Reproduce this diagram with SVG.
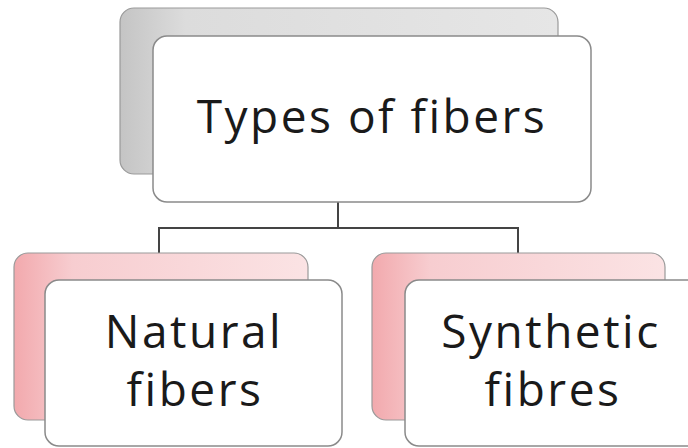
<svg xmlns="http://www.w3.org/2000/svg" width="688" height="448" viewBox="0 0 688 448">
<defs>
<linearGradient id="gGray" x1="0" y1="0" x2="1" y2="0">
<stop offset="0" stop-color="#c4c4c4"/>
<stop offset="0.15" stop-color="#dcdcdc"/>
<stop offset="1" stop-color="#e6e6e6"/>
</linearGradient>
<linearGradient id="gPink" x1="0" y1="0" x2="1" y2="0">
<stop offset="0" stop-color="#f2a9ad"/>
<stop offset="0.2" stop-color="#f7cdd0"/>
<stop offset="1" stop-color="#fbe3e4"/>
</linearGradient>
<style>
.back{stroke:#9a9a9a;stroke-width:1.2}
.front{fill:#ffffff;stroke:#8a8a8a;stroke-width:1.5}
.lbl{font-family:"Open Sans","Liberation Sans",sans-serif;font-size:46px;letter-spacing:2.5px;font-variant-ligatures:none;fill:#1a1a1a;text-anchor:middle}
.conn{fill:none;stroke:#444;stroke-width:2}
</style>
</defs>
<rect width="688" height="448" fill="#ffffff"/>
<g id="connectors">
<path class="conn" d="M338,202 V228 M159,253 V228 H518 V253"/>
</g>
<g id="node-types">
<rect class="back" x="120" y="8" width="438" height="166" rx="14" fill="url(#gGray)"/>
<rect class="front" x="153" y="36" width="438" height="166" rx="14"/>
<text class="lbl" x="372" y="133">Types of fibers</text>
</g>
<g id="node-natural">
<rect class="back" x="14" y="253" width="294" height="167" rx="14" fill="url(#gPink)"/>
<rect class="front" x="45" y="280" width="297" height="166" rx="14"/>
<text class="lbl" x="194" y="348">Natural</text>
<text class="lbl" x="195" y="406">fibers</text>
</g>
<g id="node-synthetic">
<rect class="back" x="372" y="253" width="293" height="167" rx="14" fill="url(#gPink)"/>
<rect class="front" x="405" y="280" width="297" height="166" rx="14"/>
<text class="lbl" x="551" y="348">Synthetic</text>
<text class="lbl" x="553" y="406">fibres</text>
</g>
</svg>
